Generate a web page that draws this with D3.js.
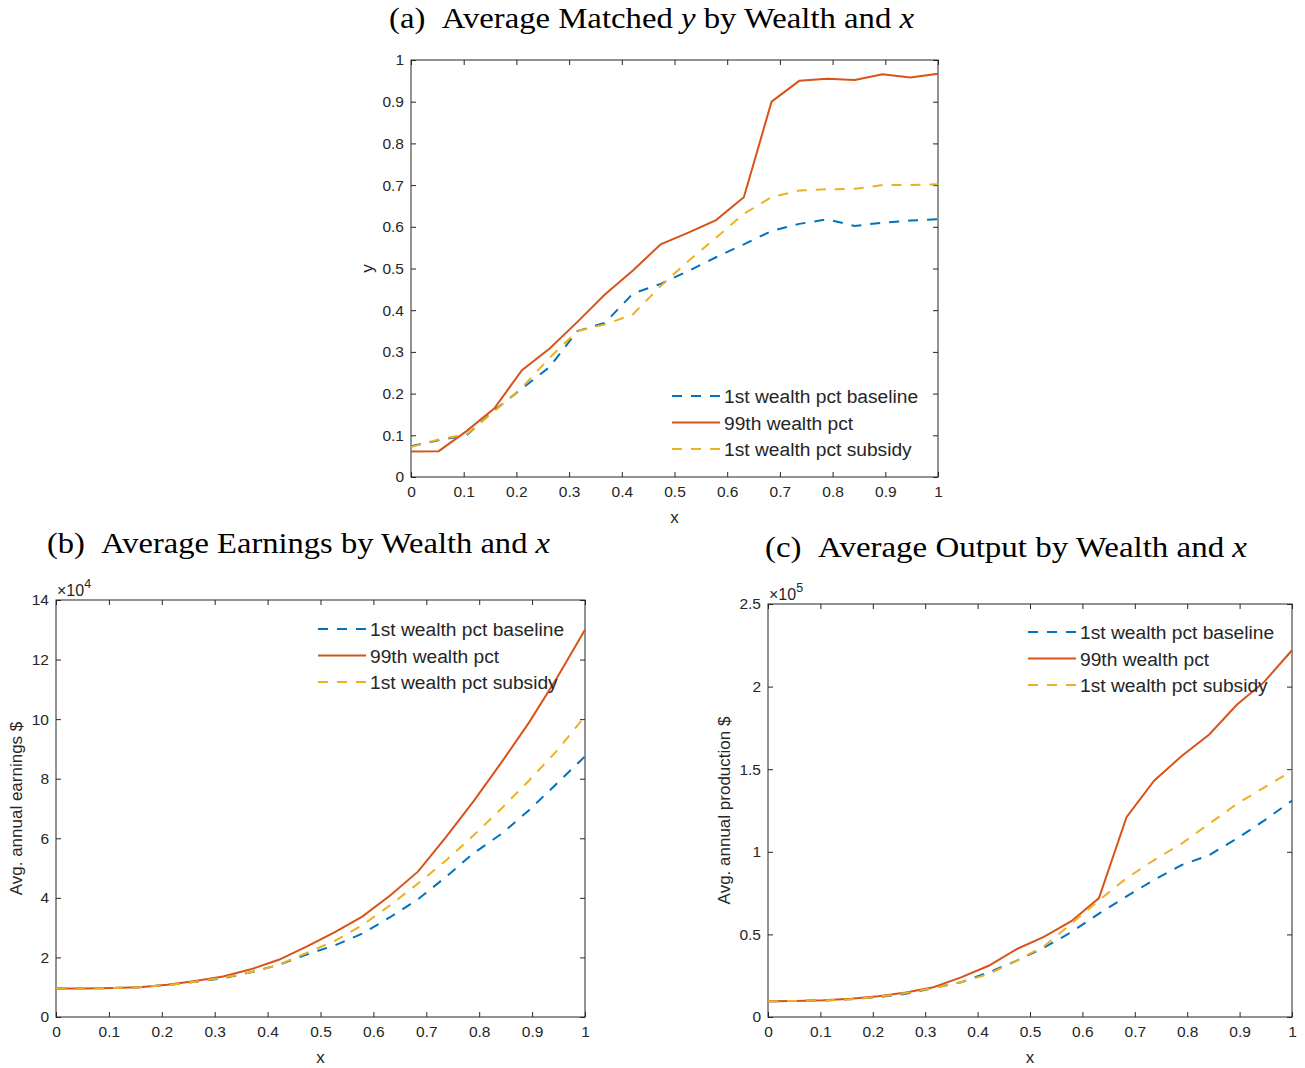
<!DOCTYPE html>
<html>
<head>
<meta charset="utf-8">
<script src="https://cdn.jsdelivr.net/npm/d3@7"></script>
<style>
body { margin: 0; background: #fff; }
text { font-family: "Liberation Sans", Arial, sans-serif; fill: #262626; }
.ttl { font-family: "Liberation Serif", "DejaVu Serif", serif; fill: #000; }
</style>
</head>
<body>
<script>
// x grid shared by all three panels
var xGrid = [0, 0.0526, 0.1053, 0.1579, 0.2105, 0.2632, 0.3158, 0.3684, 0.4211, 0.4737,
             0.5263, 0.5789, 0.6316, 0.6842, 0.7368, 0.7895, 0.8421, 0.8947, 0.9474, 1];

// (a) matched y
var matchBase = [0.074, 0.088, 0.100, 0.160, 0.212, 0.264, 0.350, 0.370, 0.440, 0.463,
                 0.494, 0.527, 0.558, 0.590, 0.607, 0.618, 0.602, 0.610, 0.615, 0.618];
var matchRich = [0.061, 0.062, 0.110, 0.164, 0.256, 0.308, 0.372, 0.438, 0.495, 0.558,
                 0.586, 0.616, 0.671, 0.900, 0.950, 0.955, 0.952, 0.966, 0.958, 0.967];
var matchSub  = [0.072, 0.090, 0.102, 0.158, 0.214, 0.286, 0.350, 0.366, 0.390, 0.458,
                 0.518, 0.574, 0.631, 0.671, 0.687, 0.690, 0.691, 0.700, 0.700, 0.702];

// (b) earnings, x 10^4
var earnBase = [0.96, 0.96, 0.97, 1.00, 1.07, 1.18, 1.30, 1.50, 1.75, 2.10,
                2.40, 2.80, 3.35, 3.95, 4.70, 5.50, 6.15, 6.95, 7.85, 8.75];
var earnRich = [0.96, 0.96, 0.97, 1.00, 1.08, 1.21, 1.36, 1.60, 1.92, 2.36,
                2.84, 3.37, 4.08, 4.88, 6.03, 7.25, 8.55, 9.90, 11.40, 13.00];
var earnSub  = [0.96, 0.96, 0.97, 1.00, 1.07, 1.18, 1.32, 1.50, 1.75, 2.15,
                2.55, 3.08, 3.75, 4.48, 5.25, 6.10, 7.00, 7.95, 8.95, 10.10];

// (c) output, x 10^5
var outBase = [0.095, 0.097, 0.100, 0.108, 0.120, 0.140, 0.175, 0.210, 0.270, 0.340,
               0.419, 0.514, 0.626, 0.730, 0.830, 0.920, 0.980, 1.080, 1.190, 1.310];
var outRich = [0.095, 0.097, 0.101, 0.110, 0.126, 0.148, 0.180, 0.240, 0.310, 0.410,
               0.485, 0.580, 0.720, 1.210, 1.430, 1.580, 1.710, 1.890, 2.030, 2.220];
var outSub  = [0.095, 0.097, 0.100, 0.108, 0.122, 0.145, 0.175, 0.210, 0.260, 0.340,
               0.427, 0.565, 0.707, 0.840, 0.950, 1.050, 1.170, 1.290, 1.390, 1.490];

var legendNames = ["1st wealth pct baseline", "99th wealth pct", "1st wealth pct subsidy"];
var xTicks = [0, 0.1, 0.2, 0.3, 0.4, 0.5, 0.6, 0.7, 0.8, 0.9, 1];
var matchTicks = [0, 0.1, 0.2, 0.3, 0.4, 0.5, 0.6, 0.7, 0.8, 0.9, 1];
var earnTicks = [0, 2, 4, 6, 8, 10, 12, 14];
var outTicks = [0, 0.5, 1, 1.5, 2, 2.5];

var colors = ["#0072BD", "#D95319", "#EDB120"];
var dashes = ["10,9", null, "10,9"];

let svg = d3.select("body")
            .append("svg")
            .attr("width", 1305)
            .attr("height", 1068);

let drawPanel = (p) => {
    let x = d3.scaleLinear().domain([0, 1]).range([p.left, p.right]);
    let y = d3.scaleLinear().domain(p.yDomain).range([p.bottom, p.top]);
    let g = svg.append("g");
    let fmt = d3.format("~g");

    // ticks on all four sides, pointing inwards
    g.append("g").attr("transform", "translate(0," + p.bottom + ")")
        .call(d3.axisBottom(x).tickValues(xTicks).tickFormat(fmt).tickSizeInner(-5).tickSizeOuter(0).tickPadding(9));
    g.append("g").attr("transform", "translate(0," + p.top + ")")
        .call(d3.axisTop(x).tickValues(xTicks).tickFormat("").tickSizeInner(-5).tickSizeOuter(0));
    g.append("g").attr("transform", "translate(" + p.left + ",0)")
        .call(d3.axisLeft(y).tickValues(p.yTicks).tickFormat(fmt).tickSizeInner(-5).tickSizeOuter(0).tickPadding(7));
    g.append("g").attr("transform", "translate(" + p.right + ",0)")
        .call(d3.axisRight(y).tickValues(p.yTicks).tickFormat("").tickSizeInner(-5).tickSizeOuter(0));
    g.selectAll(".tick line").attr("stroke", "#262626");
    g.selectAll(".domain").remove();
    g.selectAll(".tick text").attr("font-size", 15.5).attr("fill", "#262626")
        .attr("font-family", "Liberation Sans, Arial, sans-serif");

    g.append("rect")
        .attr("x", p.left).attr("y", p.top)
        .attr("width", p.right - p.left).attr("height", p.bottom - p.top)
        .attr("fill", "none").attr("stroke", "#262626").attr("stroke-width", 1);

    let line = d3.line()
        .x((d, i) => x(xGrid[i]))
        .y(d => y(d));

    p.series.forEach((s, k) => {
        g.append("path").datum(s)
            .attr("d", line)
            .attr("fill", "none")
            .attr("stroke", colors[k])
            .attr("stroke-width", 2)
            .attr("stroke-dasharray", dashes[k]);
    });

    // legend, no box
    legendNames.forEach((name, k) => {
        let ly = p.legY + k * 26.5;
        g.append("line")
            .attr("x1", p.legX).attr("x2", p.legX + 48)
            .attr("y1", ly).attr("y2", ly)
            .attr("stroke", colors[k]).attr("stroke-width", 2)
            .attr("stroke-dasharray", dashes[k]);
        g.append("text")
            .attr("x", p.legX + 52).attr("y", ly + 7)
            .attr("font-size", 19.2).attr("fill", "#000")
            .text(name);
    });

    // axis labels
    g.append("text")
        .attr("x", (p.left + p.right) / 2).attr("y", p.bottom + 46)
        .attr("text-anchor", "middle").attr("font-size", 17)
        .text("x");
    g.append("text")
        .attr("transform", "translate(" + p.yLabX + "," + (p.top + p.bottom) / 2 + ") rotate(-90)")
        .attr("text-anchor", "middle").attr("font-size", 17)
        .text(p.yLabel);

    if (p.exponent) {
        let e = g.append("text").attr("x", p.left + 1).attr("y", p.top - 4).attr("font-size", 16);
        e.append("tspan").text("\u00d710");
        e.append("tspan").attr("dy", -8).attr("font-size", 12.5).text(p.exponent);
    }

    // caption
    let t = g.append("text").attr("class", "ttl")
        .attr("x", p.ttlX).attr("y", p.ttlY)
        .attr("font-size", 28.5)
        .attr("textLength", p.ttlW)
        .attr("lengthAdjust", "spacingAndGlyphs");
    t.append("tspan").text("(" + p.letter + ")\u00a0\u00a0" + p.ttlText);
    if (p.ttlY2) {
        t.append("tspan").attr("font-style", "italic").text("y");
        t.append("tspan").text(" by Wealth and ");
    }
    t.append("tspan").attr("font-style", "italic").text("x");
};

drawPanel({
    letter: "a", ttlText: "Average Matched ", ttlY2: true, ttlX: 389, ttlY: 28, ttlW: 525,
    left: 411, right: 938, top: 60, bottom: 477,
    yDomain: [0, 1], yTicks: matchTicks, yLabel: "y", yLabX: 373,
    series: [matchBase, matchRich, matchSub],
    legX: 672, legY: 396
});

drawPanel({
    letter: "b", ttlText: "Average Earnings by Wealth and ", ttlX: 47, ttlY: 553, ttlW: 503,
    left: 56, right: 585, top: 600, bottom: 1017,
    yDomain: [0, 14], yTicks: earnTicks, yLabel: "Avg. annual earnings $", yLabX: 22,
    series: [earnBase, earnRich, earnSub], exponent: "4",
    legX: 318, legY: 629
});

drawPanel({
    letter: "c", ttlText: "Average Output by Wealth and ", ttlX: 765, ttlY: 557, ttlW: 482,
    left: 768, right: 1292, top: 604, bottom: 1017,
    yDomain: [0, 2.5], yTicks: outTicks, yLabel: "Avg. annual production $", yLabX: 730,
    series: [outBase, outRich, outSub], exponent: "5",
    legX: 1028, legY: 632
});
</script>
</body>
</html>
